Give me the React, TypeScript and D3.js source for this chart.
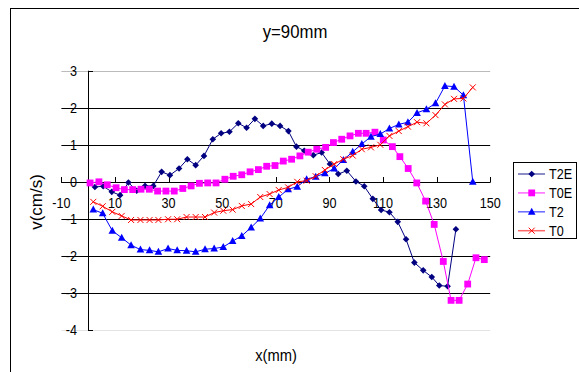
import React from 'react';
import * as d3 from 'd3';

// T2E (navy diamonds)
const t2eX = [2.5, 5.6, 8.8, 11.9, 15.0, 18.1, 21.2, 24.3, 27.4, 30.5, 33.9, 37.0, 40.1, 43.2, 46.5, 49.6, 52.7, 56.0, 59.1, 62.2, 65.3, 68.5, 71.6, 74.7, 77.7, 80.6, 84.0, 87.1, 90.2, 93.3, 96.5, 99.9, 103.0, 106.2, 109.3, 112.4, 115.5, 118.6, 121.7, 125.0, 128.2, 131.0, 134.1, 137.2];
const t2eY = [-0.14, -0.12, -0.27, -0.36, -0.02, -0.24, -0.11, -0.11, 0.27, 0.18, 0.36, 0.61, 0.45, 0.70, 1.15, 1.31, 1.35, 1.58, 1.46, 1.70, 1.51, 1.57, 1.51, 1.37, 0.95, 0.84, 0.72, 0.79, 0.48, 0.21, 0.30, 0.01, -0.12, -0.46, -0.76, -0.82, -1.08, -1.55, -2.18, -2.39, -2.57, -2.80, -2.82, -1.28];

// T0E (magenta squares)
const t0eX = [0.7, 4.0, 7.1, 10.4, 13.5, 16.6, 19.7, 22.8, 25.9, 29.0, 32.1, 35.3, 38.4, 41.5, 44.6, 47.7, 51.0, 54.1, 57.3, 60.4, 63.5, 66.6, 69.7, 72.8, 75.9, 79.0, 82.1, 85.3, 88.6, 91.5, 94.6, 97.7, 100.8, 103.7, 107.0, 110.1, 113.5, 116.3, 119.4, 122.6, 125.9, 129.1, 132.5, 135.4, 138.4, 141.6, 144.7, 147.8];
const t0eY = [-0.03, 0.0, -0.08, -0.16, -0.21, -0.21, -0.20, -0.20, -0.25, -0.25, -0.25, -0.18, -0.11, -0.04, -0.03, -0.03, 0.07, 0.15, 0.19, 0.27, 0.33, 0.42, 0.44, 0.56, 0.61, 0.70, 0.80, 0.88, 0.93, 1.06, 1.15, 1.24, 1.31, 1.31, 1.34, 1.13, 0.95, 0.68, 0.36, -0.03, -0.52, -1.15, -2.15, -3.20, -3.20, -2.76, -2.05, -2.10];

// T2 and T0 share x positions
const tX = [1.9, 5.4, 9.0, 12.5, 16.0, 19.5, 22.9, 26.2, 29.8, 33.2, 36.7, 40.1, 43.6, 47.0, 50.4, 53.9, 57.3, 60.8, 64.2, 67.7, 71.1, 74.6, 78.0, 81.5, 84.9, 88.3, 91.8, 95.2, 98.7, 102.1, 105.5, 109.0, 112.4, 115.9, 119.3, 122.7, 126.2, 129.6, 133.1, 136.5, 140.0, 143.5];
const t2Y = [-0.75, -0.85, -1.32, -1.51, -1.71, -1.83, -1.85, -1.89, -1.80, -1.85, -1.86, -1.89, -1.82, -1.80, -1.76, -1.60, -1.46, -1.23, -0.99, -0.63, -0.41, -0.20, -0.13, 0.07, 0.14, 0.23, 0.36, 0.59, 0.81, 1.02, 1.22, 1.29, 1.44, 1.55, 1.61, 1.86, 1.96, 2.12, 2.59, 2.57, 2.34, 0.0];
const t0Y = [-0.54, -0.66, -0.81, -0.92, -1.03, -1.03, -1.03, -1.03, -1.01, -1.01, -0.95, -0.95, -0.95, -0.83, -0.78, -0.75, -0.65, -0.60, -0.41, -0.33, -0.22, -0.15, 0.0, 0.03, 0.15, 0.32, 0.48, 0.61, 0.71, 0.88, 0.93, 1.0, 1.24, 1.37, 1.49, 1.61, 1.58, 1.80, 2.09, 2.24, 2.25, 2.55];

const xTicks = [-10, 10, 30, 50, 70, 90, 110, 130, 150];
const yTicks = [3, 2, 1, 0, -1, -2, -3, -4];

const seriesList = [
  { name: 'T2E', xs: t2eX, ys: t2eY, color: '#000080', marker: 'diamond' },
  { name: 'T0E', xs: t0eX, ys: t0eY, color: '#FF00FF', marker: 'square' },
  { name: 'T2', xs: tX, ys: t2Y, color: '#0000FF', marker: 'triangle' },
  { name: 'T0', xs: tX, ys: t0Y, color: '#FF0000', marker: 'cross' },
];

const FONT = 'Arial, "Liberation Sans", sans-serif';

const Marker = ({ type, x, y, color }: { type: string; x: number; y: number; color: string }) => {
  if (type === 'diamond') {
    return <path d={`M${x},${y - 3.3}L${x + 3.3},${y}L${x},${y + 3.3}L${x - 3.3},${y}Z`} fill={color} />;
  }
  if (type === 'square') {
    return <rect x={x - 3.4} y={y - 3.4} width={6.8} height={6.8} fill={color} />;
  }
  if (type === 'triangle') {
    return <path d={`M${x},${y - 4}L${x + 3.8},${y + 3}L${x - 3.8},${y + 3}Z`} fill={color} />;
  }
  return (
    <path d={`M${x - 3},${y - 3}L${x + 3},${y + 3}M${x - 3},${y + 3}L${x + 3},${y - 3}`} stroke={color} strokeWidth={1} />
  );
};

const App = () => {
  const x = d3.scaleLinear().domain([-10, 150]).range([61.4, 490.2]);
  const y = d3.scaleLinear().domain([-4, 3]).range([330, 70.7]);
  const x0 = x(0);
  const y0 = y(0);

  const line = d3
    .line<[number, number]>()
    .x((d) => x(d[0]))
    .y((d) => y(d[1]));

  const legendX = 513.5;
  const legendY = 162.5;

  return (
    <svg width={579} height={372} style={{ position: 'absolute', left: 0, top: 0, background: '#fff' }} fontFamily={FONT}>
      <rect x={10.5} y={8.5} width={600} height={400} fill="#fff" stroke="#000" strokeWidth={1} />

      <text transform={`translate(295,38) scale(0.93,1)`} textAnchor="middle" fontSize={18}>
        y=90mm
      </text>

      {/* gridlines */}
      {yTicks.map((t) => (
        <line
          key={'g' + t}
          x1={x(-10)}
          x2={x(150)}
          y1={Math.round(y(t)) + 0.5}
          y2={Math.round(y(t)) + 0.5}
          stroke={t === 3 ? '#bbb' : t === -4 ? '#e4e4e4' : '#000'}
          strokeWidth={1}
        />
      ))}

      {/* y axis */}
      <line x1={Math.round(x0) + 0.5} x2={Math.round(x0) + 0.5} y1={y(3)} y2={y(-4)} stroke="#000" />
      {yTicks.map((t) => (
        <g key={'yt' + t}>
          <line x1={Math.round(x0)} x2={Math.round(x0) + 5} y1={Math.round(y(t)) + 0.5} y2={Math.round(y(t)) + 0.5} stroke="#000" />
          <text transform={`translate(77,${y(t) + 5}) scale(0.87,1)`} textAnchor="end" fontSize={14.5}>
            {t}
          </text>
        </g>
      ))}

      {/* x axis */}
      <line x1={x(-10)} x2={x(150)} y1={Math.round(y0) + 0.5} y2={Math.round(y0) + 0.5} stroke="#000" />
      {xTicks.map((t) => (
        <g key={'xt' + t}>
          <line x1={Math.round(x(t)) + 0.5} x2={Math.round(x(t)) + 0.5} y1={Math.round(y0) - 5} y2={Math.round(y0) + 0.5} stroke="#000" />
          <text transform={`translate(${x(t)},208) scale(0.87,1)`} textAnchor="middle" fontSize={14.5}>
            {t}
          </text>
        </g>
      ))}

      {/* series */}
      {seriesList.map((s) => {
        const pts = s.xs.map((v, i) => [v, s.ys[i]] as [number, number]);
        return (
          <g key={s.name}>
            <path d={line(pts) || ''} fill="none" stroke={s.color} strokeWidth={1} />
            {pts.map((p, i) => (
              <Marker key={i} type={s.marker} x={x(p[0])} y={y(p[1])} color={s.color} />
            ))}
          </g>
        );
      })}

      {/* axis titles */}
      <text transform={`translate(276,361) scale(0.92,1)`} textAnchor="middle" fontSize={16}>
        x(mm)
      </text>
      <text transform={`translate(42,202) rotate(-90)`} textAnchor="middle" fontSize={17}>
        v(cm/s)
      </text>

      {/* legend */}
      <rect x={legendX} y={legendY} width={63} height={76} fill="#fff" stroke="#000" strokeWidth={1} />
      {seriesList.map((s, i) => {
        const ly = 174 + i * 18.9;
        return (
          <g key={'l' + s.name}>
            <line x1={518} x2={545} y1={ly} y2={ly} stroke={s.color} strokeOpacity={0.6} strokeWidth={1.5} />
            <Marker type={s.marker} x={531.7} y={ly} color={s.color} />
            <text transform={`translate(549,${ly + 5}) scale(0.87,1)`} fontSize={14.5}>
              {s.name}
            </text>
          </g>
        );
      })}
    </svg>
  );
};

export default App;
